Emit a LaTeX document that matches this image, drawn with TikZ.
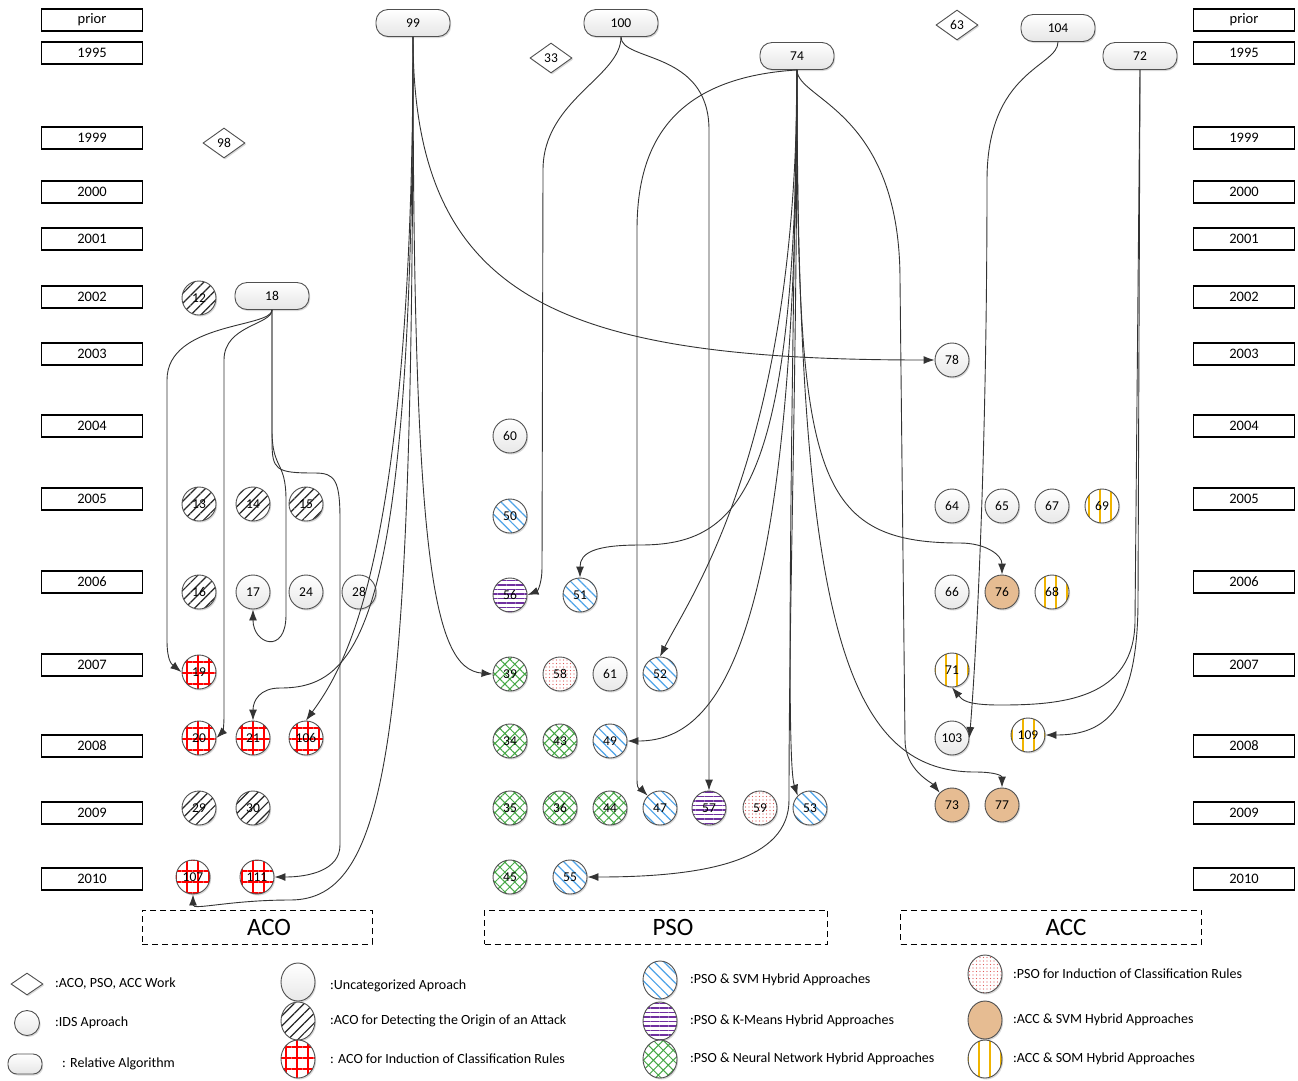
\documentclass[tikz,border=0pt]{standalone}
\usepackage{fontspec}
\setmainfont{Carlito}
\usepackage{xcolor}
\usepackage{tikz}
\usetikzlibrary{arrows.meta}
\usetikzlibrary{positioning}
\usetikzlibrary{shapes.geometric}
\usetikzlibrary{patterns.meta}
\usetikzlibrary{shadows}

\definecolor{svmblue}{HTML}{4DA3E8}
\definecolor{kmpurple}{HTML}{7030A0}
\definecolor{nngreen}{HTML}{45A845}
\definecolor{dotred}{HTML}{E05A5A}
\definecolor{acctan}{HTML}{E6BC92}
\definecolor{somyellow}{HTML}{F0B400}
\definecolor{rimgray}{HTML}{505050}

\begin{document}
\begin{tikzpicture}[x=1pt, y=-1pt, >={Latex[length=11pt,width=8pt]},
    softshadow/.style={drop shadow={shadow xshift=1.2pt,shadow yshift=-1.5pt,opacity=0.25,fill=black!60}},
    yearbox/.style={draw, line width=1.3pt, minimum width=101pt, minimum height=22pt, inner sep=0pt, font=\fontsize{14.5}{14.5}\selectfont},
    relalg/.style={draw=rimgray, line width=0.9pt, rounded corners=12pt, minimum width=74pt, minimum height=27pt, inner sep=0pt, softshadow, top color=white, bottom color=black!10, font=\fontsize{13.5}{13.5}\selectfont},
    work/.style={diamond, draw=rimgray, line width=0.9pt, aspect=1.4, minimum width=42pt, minimum height=30pt, inner sep=0pt, softshadow, fill=white, font=\fontsize{13.5}{13.5}\selectfont},
    paper/.style={circle, draw=rimgray, line width=0.9pt, minimum size=34pt, inner sep=0pt, softshadow, font=\fontsize{13.5}{13.5}\selectfont},
    ids/.style={paper, top color=white, bottom color=black!9},
    acoorigin/.style={paper, preaction={fill=white}, pattern={Lines[angle=45,distance=7pt,line width=1.2pt]}, pattern color=black!85},
    acorules/.style={paper, preaction={fill=white}, pattern={Hatch[angle=0,distance=11pt,line width=1.3pt]}, pattern color=red},
    svm/.style={paper, preaction={fill=white}, pattern={Lines[angle=-45,distance=7pt,line width=1.2pt]}, pattern color=svmblue},
    kmeans/.style={paper, preaction={fill=white}, pattern={Lines[angle=0,distance=4.5pt,line width=1.1pt]}, pattern color=kmpurple},
    nnet/.style={paper, preaction={fill=white}, pattern={Hatch[angle=45,distance=7pt,line width=1pt]}, pattern color=nngreen},
    psorules/.style={paper, preaction={fill=white}, pattern={Dots[distance=3.5pt,radius=0.55pt]}, pattern color=dotred},
    accsvm/.style={paper, fill=acctan},
    accsom/.style={paper, preaction={fill=white}, pattern={Lines[angle=90,distance=11pt,line width=1.3pt]}, pattern color=somyellow},
    legendmark/.style={ellipse, minimum width=34pt, minimum height=38pt},
    legendtext/.style={anchor=west, inner sep=0pt, font=\fontsize{14}{14}\selectfont},
    groupbox/.style={draw, dashed, dash pattern=on 6pt off 4pt, line width=1pt, minimum height=34pt, inner sep=0pt},
    grouplabel/.style={inner sep=0pt, font=\fontsize{25}{25}\selectfont},
    link/.style={->, line width=0.9pt, draw=black!80}]
    \useasboundingbox (0,0) rectangle (1298,1080);

    % years, both sides
    \foreach \yr/\yy in {prior/20, 1995/53, 1999/138, 2000/192, 2001/239, 2002/297, 2003/354,
                         2004/426, 2005/499, 2006/582, 2007/665, 2008/746, 2009/813, 2010/879} {
        \node[yearbox] (yL\yr) at (92,\yy) {\yr};
        \node[yearbox] (yR\yr) at (1244,\yy) {\yr};
    }

    % relative algorithms and works
    \node[relalg] (a99) at (413,23) {99};
    \node[relalg] (a100) at (621,23) {100};
    \node[relalg] (a74) at (797,56) {74};
    \node[relalg] (a104) at (1058,28) {104};
    \node[relalg] (a72) at (1140,56) {72};
    \node[relalg] (a18) at (272,296) {18};
    \node[work] (w98) at (224,143) {98};
    \node[work] (w33) at (551,58) {33};
    \node[work] (w63) at (957,25) {63};

    % papers
    \foreach \id/\px/\py/\kind in {12/199/298/acoorigin,
        13/199/504/acoorigin, 14/253/504/acoorigin, 15/306/504/acoorigin,
        16/199/592/acoorigin, 17/253/592/ids, 24/306/592/ids, 28/359/592/ids,
        19/199/672/acorules, 20/199/738/acorules, 21/253/738/acorules, 106/306/738/acorules,
        29/199/808/acoorigin, 30/253/808/acoorigin, 107/193/877/acorules, 111/257/877/acorules,
        60/510/436/ids, 50/510/516/svm, 56/510/595/kmeans, 51/580/595/svm,
        39/510/674/nnet, 58/560/674/psorules, 61/610/674/ids, 52/660/674/svm,
        34/510/741/nnet, 43/560/741/nnet, 49/610/741/svm,
        35/510/808/nnet, 36/560/808/nnet, 44/610/808/nnet, 47/660/808/svm,
        57/709/808/kmeans, 59/760/808/psorules, 53/810/808/svm,
        45/510/877/nnet, 55/570/877/svm,
        78/952/360/ids, 64/952/506/ids, 65/1002/506/ids, 67/1052/506/ids, 69/1102/506/accsom,
        66/952/592/ids, 76/1002/592/accsvm, 68/1052/592/accsom, 71/952/670/accsom,
        103/952/738/ids, 109/1028/735/accsom, 73/952/805/accsvm, 77/1002/805/accsvm} {
        \node[\kind] (n\id) at (\px,\py) {\id};
    }

    % groups
    \node[groupbox, minimum width=230pt] (gACO) at (257,927) {};
    \node[groupbox, minimum width=343pt] (gPSO) at (656,927) {};
    \node[groupbox, minimum width=301pt] (gACC) at (1051,927) {};
    \node[grouplabel] (tACO) at (269,927) {ACO};
    \node[grouplabel] (tPSO) at (673,927) {PSO};
    \node[grouplabel] (tACC) at (1066,927) {ACC};

    % links from 18
    \draw[link] (a18.south) .. controls +(0,18) and +(0,-58) .. (167,380) -- (167,640)
        .. controls +(0,20) and +(-10,-8) .. (n19.west);
    \draw[link] (a18.south) .. controls +(0,15) and +(0,-35) .. (224,360) -- (224,716)
        .. controls +(0,12) and +(6,-6) .. (n20.east);
    \draw[link] (a18.south) -- (272,430) .. controls +(0,40) and +(0,-40) .. (286,500) -- (286,615)
        .. controls +(0,40) and +(0,35) .. (n17.south);
    \draw[link] (a18.south) -- (272,440) .. controls +(0,30) and +(-40,0) .. (315,473)
        .. controls +(20,0) and +(0,-40) .. (340,520) -- (340,845)
        .. controls +(0,25) and +(35,0) .. (n111.east);

    % links from 99
    \draw[link] (a99.south) .. controls +(0,263) and +(-375,0) .. (n78.west);
    \draw[link] (a99.south) .. controls +(0,520) and +(-60,-5) .. (n39.west);
    \draw[link] (a99.south) .. controls +(0,590) and +(80,0) .. (280,688)
        .. controls +(-20,0) and +(0,-20) .. (n21.north);
    \draw[link] (a99.south) .. controls +(0,520) and +(40,-55) .. (n106.north);
    \draw[link] (a99.south) .. controls +(0,700) and +(100,0) .. (290,900)
        .. controls +(-60,0) and +(0,16) .. (n107.south);

    % links from 100
    \draw[link] (a100.south) .. controls +(0,40) and +(0,-70) .. (543,170) -- (542,568)
        .. controls +(0,15) and +(10,-4) .. (n56.east);
    \draw[link] (a100.south) .. controls +(0,25) and +(0,-80) .. (709,130) -- (n57.north);

    % links from 74
    \draw[link] (a74.south) .. controls +(-130,8) and +(0,-80) .. (637,230) -- (637,780)
        .. controls +(0,12) and +(-6,-6) .. (n47.north west);
    \draw[link] (a74.south) .. controls +(0,420) and +(100,0) .. (640,545)
        .. controls +(-45,0) and +(0,-25) .. (n51.north);
    \draw[link] (a74.south) .. controls +(0,380) and +(30,-60) .. (n52.north);
    \draw[link] (a74.south) .. controls +(0,580) and +(90,0) .. (n49.east);
    \draw[link] (a74.south) .. controls +(-8,500) and +(-10,-30) .. (n53.north west);
    \draw[link] (a74.south) .. controls +(0,300) and +(0,-200) .. (789,800)
        .. controls +(0,60) and +(120,0) .. (n55.east);
    \draw[link] (a74.south) .. controls +(0,400) and +(-150,0) .. (960,543)
        .. controls +(25,0) and +(0,-20) .. (n76.north);
    \draw[link] (a74.south) .. controls +(0,30) and +(0,-170) .. (900,280) -- (905,740)
        .. controls +(0,30) and +(-8,-10) .. (n73.north west);
    \draw[link] (a74.south) .. controls +(0,550) and +(-130,0) .. (975,772)
        .. controls +(20,0) and +(0,-12) .. (n77.north);

    % links from 104 and 72
    \draw[link] (a104.south) .. controls +(0,25) and +(0,-110) .. (987,180)
        .. controls +(0,300) and +(5,-60) .. (n103.east);
    \draw[link] (a72.south) -- (1138,600) .. controls +(0,110) and +(60,0) .. (n109.east);
    \draw[link] (a72.south) -- (1135,620) .. controls +(0,80) and +(60,0) .. (1000,705)
        .. controls +(-35,0) and +(10,12) .. (n71.south);

    % legend
    \node[work, minimum width=32pt, minimum height=22pt] (lgWork) at (27,984) {};
    \node[ids, minimum size=25pt] (lgIds) at (27,1023) {};
    \node[relalg, minimum width=34pt, minimum height=20pt, rounded corners=9pt] (lgRel) at (25,1064) {};
    \node[ids, legendmark] (lgUncat) at (298,982) {};
    \node[acoorigin, legendmark] (lgOrigin) at (298,1021) {};
    \node[acorules, legendmark] (lgAcoRules) at (298,1059) {};
    \node[svm, legendmark] (lgSvm) at (660,980) {};
    \node[kmeans, legendmark] (lgKmeans) at (660,1021) {};
    \node[nnet, legendmark] (lgNnet) at (660,1059) {};
    \node[psorules, legendmark] (lgPsoRules) at (985,974) {};
    \node[accsvm, legendmark] (lgAccSvm) at (985,1020) {};
    \node[accsom, legendmark] (lgAccSom) at (985,1059) {};
    \node[legendtext] (xWork) at (55,984) {:ACO, PSO, ACC Work};
    \node[legendtext] (xIds) at (55,1023) {:IDS Aproach};
    \node[legendtext] (xRel) at (62,1064) {: Relative Algorithm};
    \node[legendtext] (xUncat) at (330,986) {:Uncategorized Aproach};
    \node[legendtext] (xOrigin) at (330,1021) {:ACO for Detecting the Origin of an Attack};
    \node[legendtext] (xAcoRules) at (330,1059) {: ACO for Induction of Classification Rules};
    \node[legendtext] (xSvm) at (690,980) {:PSO \& SVM Hybrid Approaches};
    \node[legendtext] (xKmeans) at (690,1021) {:PSO \& K-Means Hybrid Approaches};
    \node[legendtext] (xNnet) at (690,1059) {:PSO \& Neural Network Hybrid Approaches};
    \node[legendtext] (xPsoRules) at (1013,974) {:PSO for Induction of Classification Rules};
    \node[legendtext] (xAccSvm) at (1013,1020) {:ACC \& SVM Hybrid Approaches};
    \node[legendtext] (xAccSom) at (1013,1059) {:ACC \& SOM Hybrid Approaches};
\end{tikzpicture}
\end{document}
